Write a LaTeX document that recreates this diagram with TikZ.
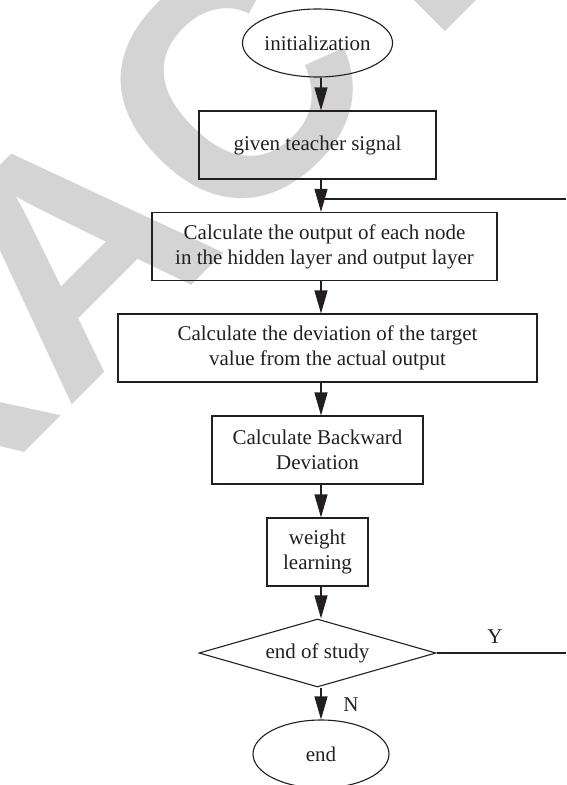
\documentclass[tikz,border=0pt]{standalone}
\usepackage{fontspec}
\setmainfont{Liberation Serif}
\newfontfamily\wmfont{Liberation Sans}
\usetikzlibrary{shapes.geometric,arrows.meta}

\definecolor{wmgray}{RGB}{212,212,212}
\definecolor{inkgray}{RGB}{35,31,32}

\tikzset{
  box/.style={draw=inkgray, line width=1.1pt, rectangle, align=center, inner sep=0pt, minimum height=68pt},
  oval/.style={draw=inkgray, line width=1.1pt, ellipse, inner sep=0pt, minimum height=68pt},
  decide/.style={draw=inkgray, line width=1.1pt, diamond, aspect=3.5, inner sep=0pt, minimum width=237pt, minimum height=68pt},
  flow/.style={draw=inkgray, line width=1.1pt, -{Triangle[length=23pt,width=13pt]}},
  plain/.style={draw=inkgray, line width=1.1pt},
  wmark/.style={text=wmgray, font=\wmfont\bfseries\fontsize{320}{320}\selectfont}
}

\begin{document}
\begin{tikzpicture}[x=1pt, y=1pt, font=\fontsize{21}{25}\selectfont, text=inkgray]
    % page frame, same size as the figure
    \clip (0,0) rectangle (566,-785);

    % watermark behind everything
    \node[wmark, rotate=45, anchor=base] (wm) at (148,-329) {RETRACTED};

    % the boxes of the flow chart
    \node[oval, minimum width=143pt] (init) at (317.5,-43) {initialization};
    \node[box, minimum width=237pt] (teach) at (317.5,-145) {given teacher signal};
    \node[box, minimum width=345pt] (outp) at (324.5,-246.5) {Calculate the output of each node\\in the hidden layer and output layer};
    \node[box, minimum width=419pt] (devi) at (327.5,-348) {Calculate the deviation of the target\\value from the actual output};
    \node[box, minimum width=211pt] (back) at (317.5,-450) {Calculate Backward\\Deviation};
    \node[box, minimum width=101pt] (learn) at (317.5,-552) {weight\\learning};
    \node[decide] (study) at (317.5,-653) {end of study};
    \node[oval, minimum width=136pt] (stop) at (321,-754) {end};

    % main line down the middle
    \coordinate (shaft) at (321,0);
    \foreach \a/\b in {init/teach, teach/outp, outp/devi, devi/back, back/learn, learn/study, study/stop} {
        \draw[flow] (\a.south -| shaft) -- (\b.north -| shaft);
    }

    % loop back (runs off the right edge)
    \coordinate (rimY) at (566,-653);
    \coordinate (rimT) at (566,-199);
    \draw[plain] (study.east) -- (rimY);
    \draw[plain] (rimT) -- (rimT -| shaft);
    \node (ylab) at (495,-637) {Y};
    \node (nlab) at (351,-705) {N};
\end{tikzpicture}
\end{document}
